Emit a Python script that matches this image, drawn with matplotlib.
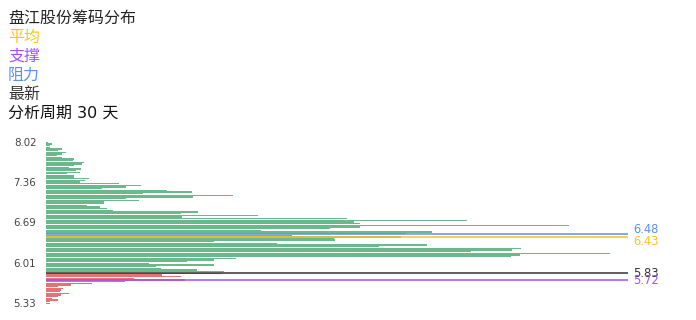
import numpy as np
import matplotlib
matplotlib.use("Agg")
import matplotlib.pyplot as plt

plt.rcParams['font.family'] = ['DejaVu Sans', 'Noto Sans CJK SC']

# price grid (bottom to top)
price_low, price_high, n_bins = 5.33, 8.02, 98
prices = np.linspace(price_low, price_high, n_bins)

# chip volume per price bin, listed from top (8.02) to bottom (5.33)
chips_top_down = [
    1.7, 5.7, 4, 4, 15.7, 11.7, 19.7, 16, 10.7, 16, 27.7, 26.7, 37.7, 35.7, 28,
    22.7, 35, 30, 34, 20.7, 28, 28, 43, 39, 34,
    73, 95, 80, 56, 121, 146, 97, 187, 147, 80, 93, 58, 58, 41, 54, 61, 67,
    152, 135, 212, 136,
    301, 421, 308, 314, 523, 314, 284, 215, 386, 360, 246, 355, 288, 289, 168,
    231, 381, 333,
    475, 466, 425, 564, 474, 465, 190, 168, 141, 103, 168, 110, 115, 151, 178,
    176, 116, 135, 88, 139, 79, 46, 25, 12, 17, 15, 14, 23, 15, 12, 6, 12, 4, 4,
]
chips = chips_top_down[::-1]

tick_labels = ["5.33", "6.01", "6.69", "7.36", "8.02"]
tick_values = [5.33, 6.01, 6.69, 7.36, 8.02]

avg_price = 6.43
support_price = 5.72
resist_price = 6.48
latest_price = 5.83

title_lines = [
    ("盘江股份筹码分布", "#222222"),
    ("平均", "#ffc21a"),
    ("支撑", "#a54dff"),
    ("阻力", "#5b8ff9"),
    ("最新", "#333333"),
    ("分析周期 30 天", "#111111"),
]

fig = plt.figure(figsize=(6.96, 3.2), dpi=100)
ax = fig.add_axes([46 / 696, (320 - 304) / 320, 582 / 696, (304 - 141.5) / 320])

step = prices[1] - prices[0]
colors = ["#e23b3b" if p <= latest_price else "#2f9e5f" for p in prices]
ax.barh(prices, chips, height=step * 0.8, color=colors, alpha=0.72, linewidth=0)

ax.set_xlim(0, 582)
ax.set_ylim(price_low - step / 2, price_high + step / 2)

lines = [
    (resist_price, "#5b8ff9", -5),
    (avg_price, "#ffc21a", 4),
    (latest_price, "#333333", 0),
    (support_price, "#a54dff", 1),
]
for val, col, dy in lines:
    ax.axhline(val, color=col, linewidth=1.1, zorder=3)
    ax.annotate(f"{val:.2f}", xy=(1.0, val), xycoords=("axes fraction", "data"),
                xytext=(5, -dy), textcoords="offset pixels",
                ha="left", va="center", fontsize=8.3, color=col, annotation_clip=False)

ax.set_yticks(tick_values)
ax.set_yticklabels(tick_labels)
ax.tick_params(axis="y", length=0, pad=7, labelsize=7.4, labelcolor="#444444")
ax.set_xticks([])
for s in ax.spines.values():
    s.set_visible(False)

for i, (txt, col) in enumerate(title_lines):
    fig.text(8 / 696, 1 - (18 + i * 19) / 320, txt, fontsize=11.5, color=col,
             ha="left", va="center")

fig.savefig("out.png", dpi=100)
